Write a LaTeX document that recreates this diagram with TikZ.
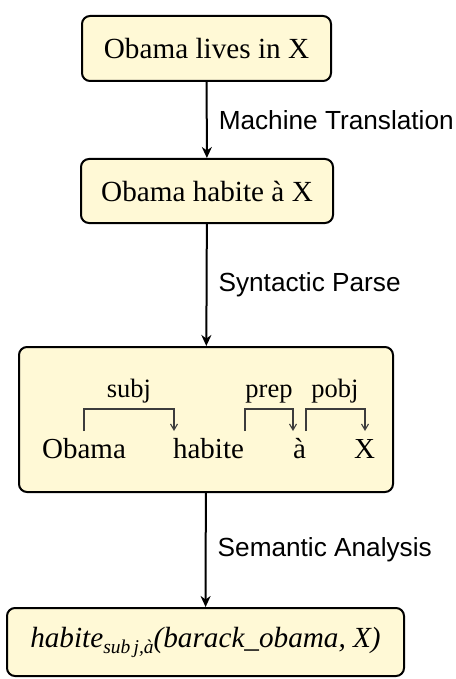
\documentclass[tikz,border=0pt]{standalone}
\usepackage{fontspec}
\setmainfont{Liberation Serif}
\setsansfont{Liberation Sans}
\usetikzlibrary{arrows.meta}
\definecolor{boxfill}{RGB}{255,249,214}
\definecolor{arcgray}{RGB}{60,60,60}
\tikzset{
  stagebox/.style={draw=black, line width=2pt, rounded corners=8pt, fill=boxfill,
    inner sep=0pt, font=\fontsize{29.2}{33}\selectfont},
  flow/.style={line width=2pt, -{Stealth[length=11pt,width=10pt,inset=3.5pt]}},
  flowlabel/.style={anchor=west, inner sep=0pt, xshift=11pt, font=\sffamily\fontsize{26.2}{29}\selectfont},
  word/.style={anchor=base, inner sep=0pt, font=\fontsize{29}{33}\selectfont},
  deplabel/.style={anchor=base, inner sep=0pt, font=\fontsize{26.5}{30}\selectfont},
  deparc/.style={draw=arcgray, line width=1.1pt, -{Straight Barb[length=6pt,width=7pt]}}
}
\begin{document}
\begin{tikzpicture}[x=1pt,y=-1pt]
\useasboundingbox (0,0) rectangle (455,679);
\node[stagebox, minimum width=249pt, minimum height=65pt] (b1) at (206.5,48.5) {Obama lives in X};
\node[stagebox, minimum width=252pt, minimum height=64pt] (b2) at (207,191) {Obama habite à X};
\node[stagebox, minimum width=374pt, minimum height=145pt] (b3) at (206,419.5) {};
\node[stagebox, minimum width=397pt, minimum height=68pt] (b4) at (205.5,642)
  {\textit{habite}{\fontsize{19.5}{20}\selectfont\itshape\raisebox{-6pt}{sub\,j,à}}\textit{(barack\_obama, X)}};

\draw[flow] (b1) -- node[flowlabel] {Machine Translation} (b2);
\draw[flow] (b2) -- node[flowlabel] {Syntactic Parse} (b3);
\draw[flow] (b3) -- node[flowlabel] {Semantic Analysis} (b4);

% dependency tree
\node[word] (w1) at (84,458) {Obama};
\node[word] (w2) at (208.5,458) {habite};
\node[word] (w3) at (299.5,458) {à};
\node[word] (w4) at (364.5,458) {X};
\node[deplabel] (l1) at (129,397) {subj};
\node[deplabel] (l2) at (269,397) {prep};
\node[deplabel] (l3) at (335,397) {pobj};
\coordinate (s1) at (84,431);  \coordinate (e1) at (174,431);
\coordinate (s2) at (245,431); \coordinate (e2) at (293,431);
\coordinate (s3) at (306,431); \coordinate (e3) at (365,431);
\draw[deparc] (s1) -- ++(0,-22) -| (e1);
\draw[deparc] (s2) -- ++(0,-22) -| (e2);
\draw[deparc] (s3) -- ++(0,-22) -| (e3);
\end{tikzpicture}
\end{document}
